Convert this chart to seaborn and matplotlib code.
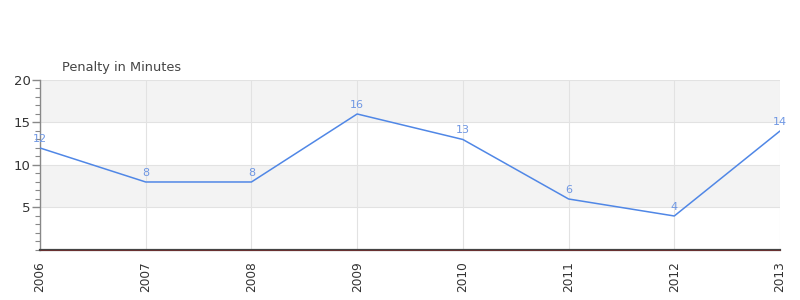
import matplotlib
matplotlib.use("Agg")
import matplotlib.pyplot as plt
import seaborn as sns
import pandas as pd
from matplotlib.ticker import MultipleLocator

years = [2006, 2007, 2008, 2009, 2010, 2011, 2012, 2013]
penalty = [12, 8, 8, 16, 13, 6, 4, 14]
title = "Penalty in Minutes"

df = pd.DataFrame({"year": years, "pim": penalty})

sns.set_style("white")
plt.rcParams['font.family'] = ['DejaVu Sans']

fig = plt.figure(figsize=(8, 3), dpi=100)
ax = fig.add_axes([0.05, 0.1667, 0.925, 0.5667])

# alternating bands
for lo, hi, c in [(0, 5, "white"), (5, 10, "#f3f3f3"), (10, 15, "white"), (15, 20, "#f3f3f3")]:
    ax.axhspan(lo, hi, color=c, zorder=0, lw=0)

sns.lineplot(data=df, x="year", y="pim", ax=ax, color="#5087e6", lw=1.1, zorder=3)

for x, y in zip(years, penalty):
    ax.annotate(str(y), (x, y), xytext=(0, 3), textcoords="offset points",
                ha="center", va="bottom", fontsize=8, color="#6f97e3", zorder=4)

ax.set_xlim(2006, 2013)
ax.set_ylim(0, 20)
ax.set_xticks(years)
ax.set_xticklabels([str(y) for y in years], rotation=90, fontsize=8.7, color="#333")
ax.set_yticks([5, 10, 15, 20])
ax.set_yticklabels(["5", "10", "15", "20"], fontsize=9.5, color="#333")
ax.yaxis.set_minor_locator(MultipleLocator(1))
ax.tick_params(axis="y", which="major", length=5.8, width=1, color="#888", left=True, pad=0.8)
ax.tick_params(axis="y", which="minor", length=3.6, width=0.8, color="#888", left=True)
ax.tick_params(axis="x", length=0, pad=8)

ax.grid(True, axis="both", color="#e2e2e2", lw=0.8, zorder=1)
ax.set_axisbelow(True)
ax.set_xlabel("")
ax.set_ylabel("")

for s in ["top", "right"]:
    ax.spines[s].set_visible(False)
ax.spines["left"].set_color("#888")
ax.spines["left"].set_linewidth(1)
ax.spines["bottom"].set_color("#444")
ax.spines["bottom"].set_linewidth(1.6)
ax.axhline(0, color="#7a2a2a", lw=0.5, zorder=5, clip_on=False)

fig.text(62 / 800, 1 - 67 / 300, title, fontsize=9.3, color="#444", va="center", ha="left")

fig.savefig("out.png", dpi=100)
